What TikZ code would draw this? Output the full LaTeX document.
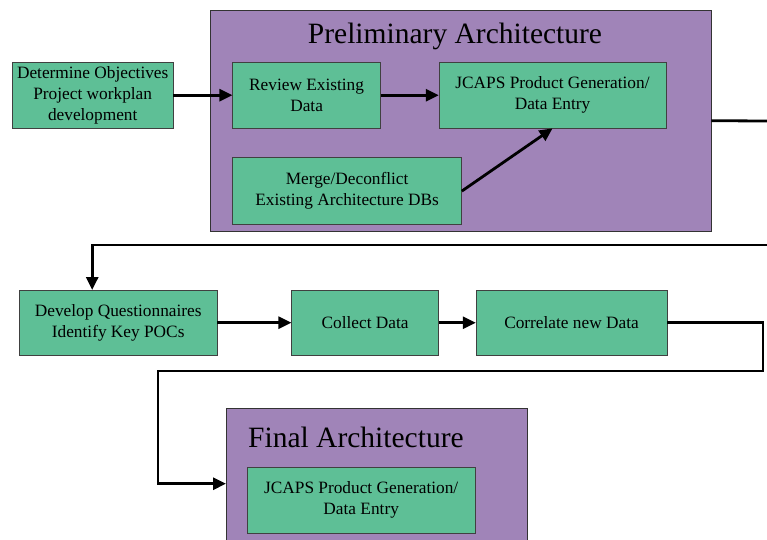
\documentclass[tikz,border=0pt]{standalone}
\usepackage{fontspec}
\setmainfont{Liberation Serif}
\usetikzlibrary{arrows.meta,positioning}
\definecolor{panelpurple}{RGB}{160,132,184}
\definecolor{boxgreen}{RGB}{94,191,150}

\begin{document}
\begin{tikzpicture}[
  x=1pt, y=1pt,
  node distance = 29pt and 58pt,
  stepbox/.style  = {draw=black!75, fill=boxgreen, align=center,
                     minimum width=#1, minimum height=66pt, inner sep=2pt,
                     font=\fontsize{17.3}{21}\selectfont},
  stepbox/.default = 148pt,
  panel/.style    = {draw=black!80, fill=panelpurple, anchor=north west,
                     inner sep=0pt},
  ptitle/.style   = {font=\fontsize{29.5}{34}\selectfont, inner sep=0pt},
  arr/.style      = {-{Triangle[length=13pt,width=12pt]}, line width=2.8pt},
  flow/.style     = {line width=2.8pt},
]
\useasboundingbox (0,0) rectangle (767,-539);

%% ── PRELIMINARY ARCHITECTURE ────────────────────────────────────────────
\node[panel, minimum width=501pt, minimum height=221pt] (prelim) at (210,-10) {};
\node[ptitle] (prelim-title) at (455,-36) {Preliminary Architecture};

\node[stepbox=161pt, anchor=north west] (objectives) at (12,-62)
     {Determine Objectives\\Project workplan\\development};
\node[stepbox=148pt, right=59pt of objectives] (review) {Review Existing\\Data};
\node[stepbox=227pt, right=58pt of review]     (jcaps)  {JCAPS Product Generation/\\Data Entry};
\node[stepbox=229pt, below=29pt of review.south west, anchor=north west,
      minimum height=67pt] (merge) {Merge/Deconflict\\Existing Architecture DBs};

\draw[arr] (objectives) -- (review);
\draw[arr] (review)     -- (jcaps);
\draw[arr] (merge.east) -- (jcaps.south);

%% leaves page on the right, comes back one row lower
\coordinate (exit-top)  at (767,-121);
\coordinate (enter-mid) at (767,-245);
\draw[flow] (prelim.east) -- (exit-top);

%% ── DATA COLLECTION ROW ─────────────────────────────────────────────────
\node[stepbox=198pt, anchor=north west, minimum height=65pt] (develop) at (19,-290)
     {Develop Questionnaires\\Identify Key POCs};
\node[stepbox=147pt, right=74pt of develop, minimum height=65pt] (collect)   {Collect Data};
\node[stepbox=191pt, right=37pt of collect, minimum height=65pt] (correlate) {Correlate new Data};

\draw[arr] (enter-mid) -| ([xshift=-26pt]develop.north);
\draw[arr] (develop) -- (collect);
\draw[arr] (collect) -- (correlate);

%% ── FINAL ARCHITECTURE ──────────────────────────────────────────────────
\node[panel, minimum width=301pt, minimum height=145pt] (final) at (226,-408) {};
\node[ptitle, anchor=west] (final-title) at (248,-437) {Final Architecture};
\node[stepbox=228pt, anchor=north west] (final-jcaps) at (247,-467)
     {JCAPS Product Generation/\\Data Entry};

\coordinate (loop-right) at (763,-371);
\coordinate (loop-left)  at (158,-371);
\draw[arr] (correlate.east) -| (loop-right) -- (loop-left) |- ([yshift=-3pt]final.west);

\end{tikzpicture}
\end{document}
